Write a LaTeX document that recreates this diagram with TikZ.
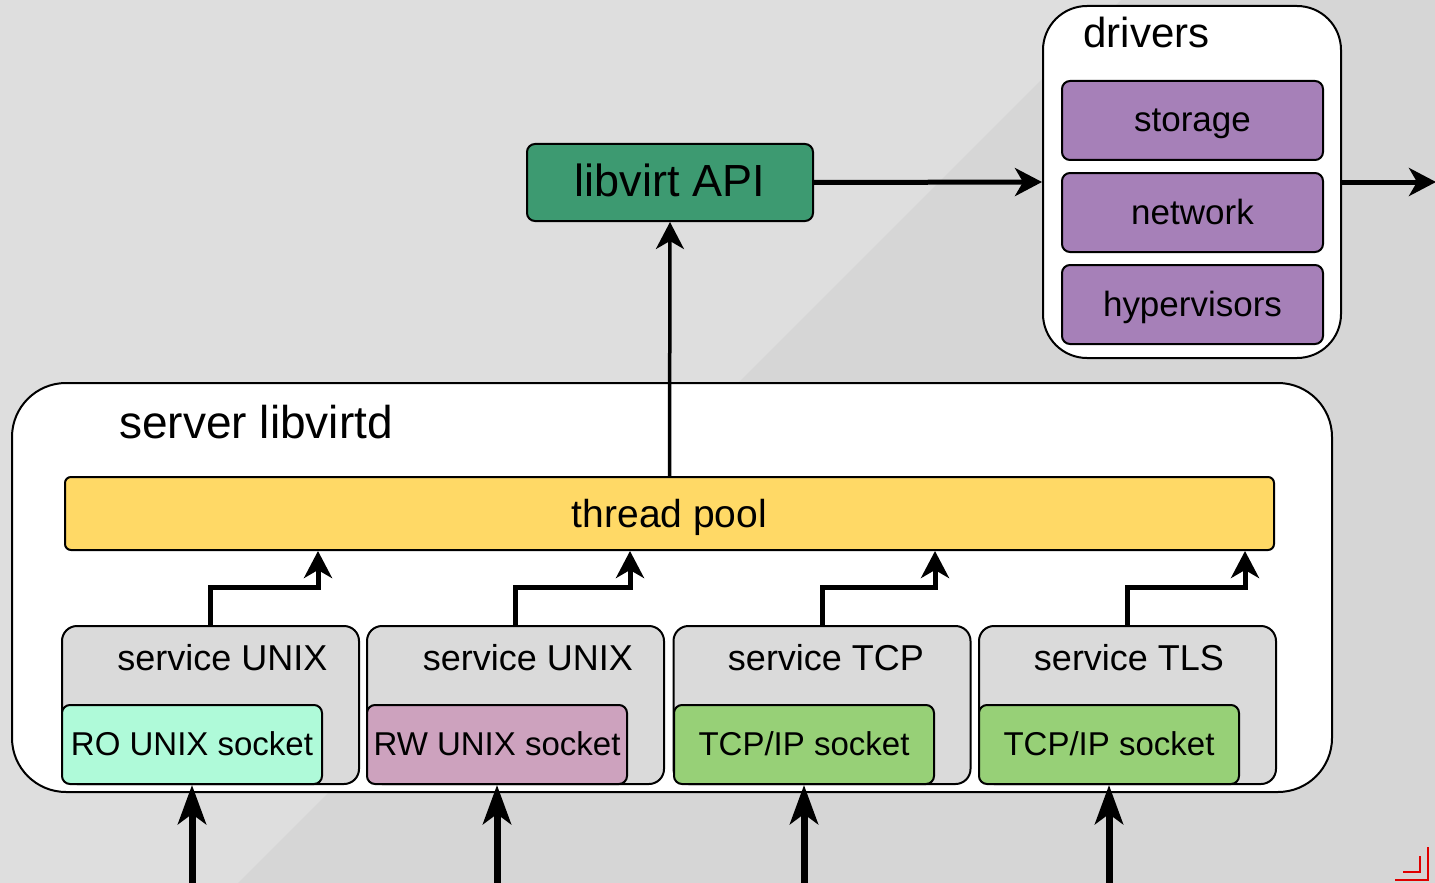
\documentclass[tikz,border=0pt]{standalone}
\usepackage{fontspec}
\setmainfont{Liberation Sans}
\usetikzlibrary{arrows.meta}
\definecolor{bg_light}{HTML}{DEDEDE}
\definecolor{bg_dark}{HTML}{D6D6D6}
\definecolor{api_green}{HTML}{3D9A71}
\definecolor{pool_yellow}{HTML}{FFD966}
\definecolor{driver_purple}{HTML}{A680B8}
\definecolor{service_grey}{HTML}{DADADA}
\definecolor{ro_mint}{HTML}{AFFAD9}
\definecolor{rw_pink}{HTML}{CDA2BE}
\definecolor{tcp_green}{HTML}{97D077}
\definecolor{mark_red}{HTML}{E00000}

\begin{document}
\begin{tikzpicture}[x=0.5pt,y=-0.5pt,
    box/.style={draw, line width=1pt, rounded corners=4pt, inner sep=0pt, text depth=0pt},
    container/.style={draw, line width=1pt, fill=white, inner sep=0pt},
    service/.style={box, fill=service_grey, rounded corners=7.5pt, minimum width=148.5pt, minimum height=79pt},
    socket/.style={box, minimum width=130pt, minimum height=39.5pt, text height=10.5pt, font=\fontsize{16.5}{20}\selectfont},
    driver/.style={box, fill=driver_purple, minimum width=130.5pt, minimum height=39.5pt, text height=11.5pt, font=\fontsize{17.5}{21}\selectfont},
    servicelabel/.style={anchor=base, inner sep=0pt, font=\fontsize{18}{22}\selectfont},
    flow/.style={line width=2.5pt, -{Stealth[length=13.5pt,width=14pt,inset=4pt]}},
    input/.style={line width=3.5pt, -{Stealth[length=19.5pt,width=14pt,inset=5pt]}}]
        % Fond
        \fill[bg_light] (0,0) rectangle (1435,883);
        \fill[bg_dark] (1121,0) -- (1435,0) -- (1435,883) -- (238,883) -- cycle;
        \useasboundingbox (0,0) rectangle (1435,883);
        % Serveur libvirtd et drivers
        \node[container, rounded corners=27pt, minimum width=660pt, minimum height=204.5pt] (server) at (672,587.5) {};
        \node[anchor=base west, inner sep=0pt, font=\fontsize{23}{28}\selectfont] (serverlabel) at (119,438) {server libvirtd};
        \node[container, rounded corners=22pt, minimum width=149pt, minimum height=176pt] (drivers) at (1192,182) {};
        \node[anchor=base west, inner sep=0pt, font=\fontsize{21}{25}\selectfont] (driverslabel) at (1083,48) {drivers};
        \node[driver] (storage) at (1192.5,120.5) {storage};
        \node[driver] (network) at (1192.5,212.5) {network};
        \node[driver] (hypervisors) at (1192.5,304.5) {hypervisors};
        % API et thread pool
        \node[box, fill=api_green, minimum width=143pt, minimum height=38.5pt, text height=14.5pt, font=\fontsize{22.5}{27}\selectfont] (api) at (670,182.5) {libvirt API};
        \node[box, fill=pool_yellow, rounded corners=3pt, minimum width=604.5pt, minimum height=36.5pt, text height=13.5pt, font=\fontsize{19.5}{23}\selectfont] (pool) at (669.5,513.5) {thread pool};
        % Services
        \node[service] (svc1) at (210.5,705) {};
        \node[service] (svc2) at (515.5,705) {};
        \node[service] (svc3) at (822,705) {};
        \node[service] (svc4) at (1127.5,705) {};
        \node[servicelabel] (svc1label) at (222.5,670) {service UNIX};
        \node[servicelabel] (svc2label) at (528,670) {service UNIX};
        \node[servicelabel] (svc3label) at (826,670) {service TCP};
        \node[servicelabel] (svc4label) at (1129,670) {service TLS};
        % Sockets
        \node[socket, fill=ro_mint] (ro) at (192,744.5) {RO UNIX socket};
        \node[socket, fill=rw_pink] (rw) at (497,744.5) {RW UNIX socket};
        \node[socket, fill=tcp_green] (tcp) at (804,744.5) {TCP/IP socket};
        \node[socket, fill=tcp_green] (tls) at (1109,744.5) {TCP/IP socket};
        % Fleches
        \coordinate (out) at (1436,182);
        \coordinate (in1) at (192,890);
        \coordinate (in2) at (497,890);
        \coordinate (in3) at (804,890);
        \coordinate (in4) at (1109,890);
        \draw[flow, line width=1.75pt] (pool.north) -- (api.south);
        \draw[flow] (api.east) -- (drivers.west);
        \draw[flow] (drivers.east) -- (out);
        \draw[flow] (svc1.north) -- ++(0,-38) -| (318,0 |- pool.south);
        \draw[flow] (svc2.north) -- ++(0,-38) -| (630,0 |- pool.south);
        \draw[flow] (svc3.north) -- ++(0,-38) -| (935,0 |- pool.south);
        \draw[flow] (svc4.north) -- ++(0,-38) -| (1245,0 |- pool.south);
        \draw[input] (in1) -- (ro.south);
        \draw[input] (in2) -- (rw.south);
        \draw[input] (in3) -- (tcp.south);
        \draw[input] (in4) -- (tls.south);
        % Marque de coin
        \draw[mark_red, line width=1pt] (1395,880) -- (1428,880) -- (1428,847);
        \draw[mark_red, line width=1pt] (1403,872) -- (1420,872) -- (1420,856);
\end{tikzpicture}
\end{document}
